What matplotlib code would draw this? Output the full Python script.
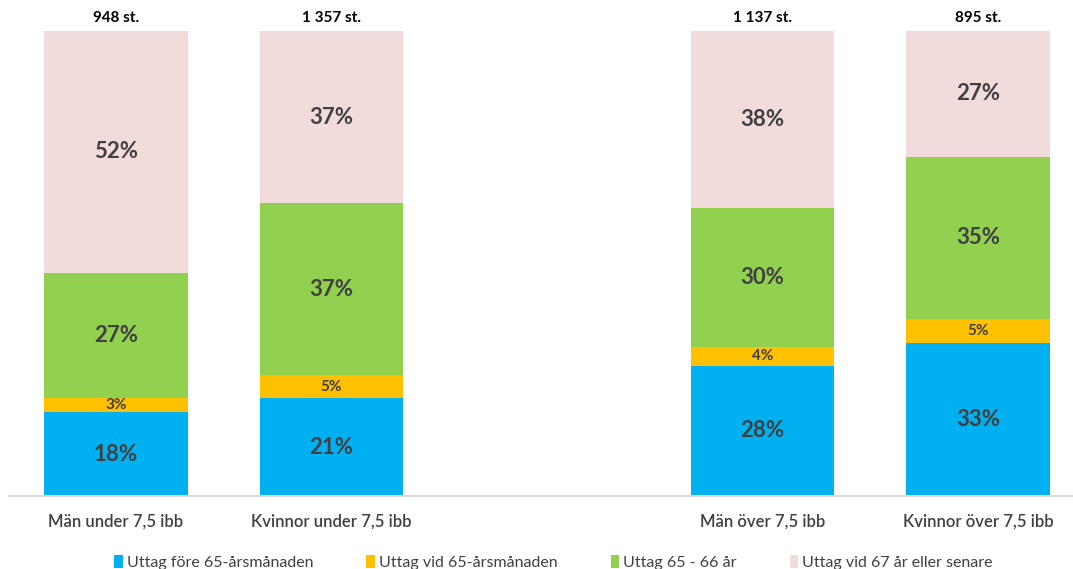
import numpy as np
import matplotlib.pyplot as plt

# categories (an empty slot separates the two income groups)
categories = ["Män under 7,5 ibb", "Kvinnor under 7,5 ibb", "",
              "Män över 7,5 ibb", "Kvinnor över 7,5 ibb"]
totals = ["948 st.", "1 357 st.", "", "1 137 st.", "895 st."]

series_names = ["Uttag före 65-årsmånaden", "Uttag vid 65-årsmånaden",
                "Uttag 65 - 66 år", "Uttag vid 67 år eller senare"]
fore_65 = [18, 21, np.nan, 28, 33]
vid_65 = [3, 5, np.nan, 4, 5]
mellan_65_66 = [27, 37, np.nan, 30, 35]
vid_67 = [52, 37, np.nan, 38, 27]

colors = ["#00B0F0", "#FFC000", "#92D050", "#F2DCDB"]
label_sizes = [16, 11, 16, 16]

plt.rcParams["font.family"] = ["Lato", "DejaVu Sans"]

fig = plt.figure(figsize=(10.73, 5.69), dpi=100)
ax = fig.add_axes([0.0, 73 / 569, 1.0, 465 / 569])

x = np.arange(len(categories))
bottom = np.zeros(len(categories))
for name, vals, col, fs in zip(series_names,
                               [fore_65, vid_65, mellan_65_66, vid_67],
                               colors, label_sizes):
    vals = np.array(vals, dtype=float)
    v = np.nan_to_num(vals)
    ax.bar(x, v, width=0.665, bottom=bottom, color=col, label=name)
    for xi, b, val in zip(x, bottom, vals):
        if np.isnan(val):
            continue
        ax.text(xi, b + val / 2, f"{val:.0f}%", ha="center", va="center",
                fontsize=fs, fontweight="bold", color="#404040")
    bottom += v

for xi, t in zip(x, totals):
    if t:
        ax.text(xi, 101.3, t, ha="center", va="bottom", fontsize=11,
                fontweight="bold", color="black", clip_on=False)

ax.set_xlim(-0.538, 4.44)
ax.set_ylim(0, 100)
ax.set_yticks([])
ax.set_xticks(x)
ax.set_xticklabels(categories, fontsize=12, color="#404040", fontweight="semibold")
ax.tick_params(axis="x", length=0, pad=13)
for s in ["top", "right", "left"]:
    ax.spines[s].set_visible(False)
ax.spines["bottom"].set_color("#D9D9D9")
ax.spines["bottom"].set_linewidth(1.5)
ax.spines["bottom"].set_bounds(-0.497, 4.44)

fig.legend(loc="center", bbox_to_anchor=(0.516, 0.011), ncol=4,
           frameon=False, fontsize=11.5, handlelength=0.55, handleheight=0.9,
           handletextpad=0.25, columnspacing=3.3, labelcolor="#404040",
           borderaxespad=0, borderpad=0)

fig.savefig("out.png", dpi=100)
